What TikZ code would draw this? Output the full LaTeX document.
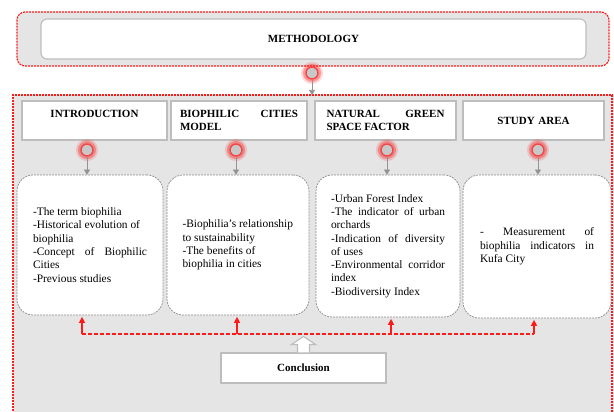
\documentclass[tikz,border=0pt]{standalone}
\usepackage{fontspec}
\setmainfont{Liberation Serif}
\usetikzlibrary{arrows.meta,calc}
\definecolor{bggray}{HTML}{E5E5E5}
\definecolor{boxgray}{HTML}{BDBDBD}
\definecolor{dashgray}{HTML}{8C8C8C}
\definecolor{dotgray}{HTML}{C8C8C8}
\definecolor{redline}{HTML}{FF1A1A}
\definecolor{glowred}{HTML}{F04848}
\begin{document}
\begin{tikzpicture}[x=1pt,y=-1pt,
  every node/.style={font=\fontsize{11.4}{13.3}\selectfont},
  reddash/.style={draw=redline, dash pattern=on 2pt off 1pt, line width=1.2pt},
  topbox/.style={reddash, fill=bggray, rounded corners=8pt, inner sep=0pt},
  methbox/.style={draw=boxgray, line width=1.1pt, fill=white, rounded corners=6pt, inner sep=0pt,
    font=\fontsize{11}{13.3}\selectfont\bfseries},
  hdr/.style={draw=boxgray, line width=1.1pt, fill=white, inner sep=0pt, minimum height=39pt,
    text width=118pt, align=justify, font=\fontsize{11}{13.3}\selectfont\bfseries},
  hdrc/.style={hdr, align=center},
  content/.style={draw=dashgray, dash pattern=on 2pt off 1pt, line width=0.7pt, fill=white,
    rounded corners=16pt, inner sep=0pt, text width=114pt, align=justify},
  glowdot/.style={circle, fill=dotgray, draw=glowred, line width=1.4pt, minimum size=12pt, inner sep=0pt,
    preaction={draw=red, draw opacity=0.15, line width=10pt},
    preaction={draw=red, draw opacity=0.3, line width=6pt}},
  grayarrow/.style={draw=gray!85, line width=0.6pt, -{Triangle[width=6pt,length=5pt]}},
  redarrow/.style={draw=redline, line width=1.3pt, -{Triangle[width=6pt,length=6pt]}},
  redconn/.style={draw=redline, line width=1.3pt, dash pattern=on 4pt off 2pt},
  concl/.style={draw=boxgray, line width=1.1pt, fill=white, inner sep=0pt,
    font=\fontsize{11}{13.3}\selectfont\bfseries},
  hollow/.style={draw=boxgray, line width=1.1pt, fill=white, line join=miter}
]
\useasboundingbox (0,0) rectangle (614,412);
\hyphenpenalty=10000

% top block
\node[topbox, minimum width=592pt, minimum height=54pt] (top) at (313,39) {};
\node[methbox, minimum width=545pt, minimum height=40pt] (meth) at (313.5,39) {METHODOLOGY};

% container
\fill[bggray] (13,95) rectangle (614,413);
\draw[reddash] (13,414) -- (13,95) -- (612,95) -- (612,414);
\coordinate (ctop) at (312,95);

\node[glowdot] (c0) at (312,73) {};
\draw[grayarrow] (c0) -- (ctop);

% headers
\node[hdr, minimum width=145pt] (h1) at (94.5,120.5) {\centering INTRODUCTION\\ \mbox{}};
\node[hdr, minimum width=136pt] (h2) at (239,120.5) {BIOPHILIC CITIES\linebreak MODEL};
\node[hdr, minimum width=141pt] (h3) at (385.5,120.5) {NATURAL GREEN\linebreak SPACE FACTOR};
\node[hdrc, minimum width=141pt] (h4) at (533.5,120.5) {STUDY AREA};

% dots
\node[glowdot] (c1) at (87,150) {};
\node[glowdot] (c2) at (236,150) {};
\node[glowdot] (c3) at (387,150) {};
\node[glowdot] (c4) at (538,150) {};

% content boxes
\node[content, minimum width=146pt, minimum height=140pt] (b1) at (90,245)
  {-The term biophilia\\
   -Historical evolution of\\
   biophilia\\
   -Concept of Biophilic\linebreak
   Cities\\
   -Previous studies};
\node[content, minimum width=142pt, minimum height=140pt, text width=111pt] (b2) at (238,245)
  {-Biophilia's relationship\\
   to sustainability\\
   -The benefits of\\
   biophilia in cities};
\node[content, minimum width=144pt, minimum height=142pt] (b3) at (388,246)
  {-Urban Forest Index\\
   -The indicator of urban\linebreak
   orchards\\
   -Indication of diversity\linebreak
   of uses\\
   -Environmental corridor\linebreak
   index\\
   -Biodiversity Index};
\node[content, minimum width=148pt, minimum height=143pt, text width=114pt] (b4) at (537,246.5)
  {- Measurement of\linebreak
   biophilia indicators in\linebreak
   Kufa City};

\foreach \i in {1,2,3,4} {
  \draw[grayarrow] (c\i) -- (c\i |- b\i.north);
}

% red connectors
\coordinate (r1) at (82,334);
\coordinate (r2) at (237,334);
\coordinate (r3) at (391,334);
\coordinate (r4) at (534,334);
\draw[redconn] (r1) -- (r4);
\foreach \i in {1,2,3,4} {
  \draw[redarrow] (r\i) -- ($(r\i |- b\i.south)+(0,1.5)$);
}

% conclusion
\node[concl, minimum width=165pt, minimum height=30pt] (con) at (303.5,368) {Conclusion};
\draw[hollow] ($(con.north)+(-6,0)$) -- ++(0,-8) -- ++(-6,0) -- ($(con.north)+(0,-16)$)
  -- ($(con.north)+(12,-8)$) -- ++(-6,0) -- ++(0,8);
\end{tikzpicture}
\end{document}
